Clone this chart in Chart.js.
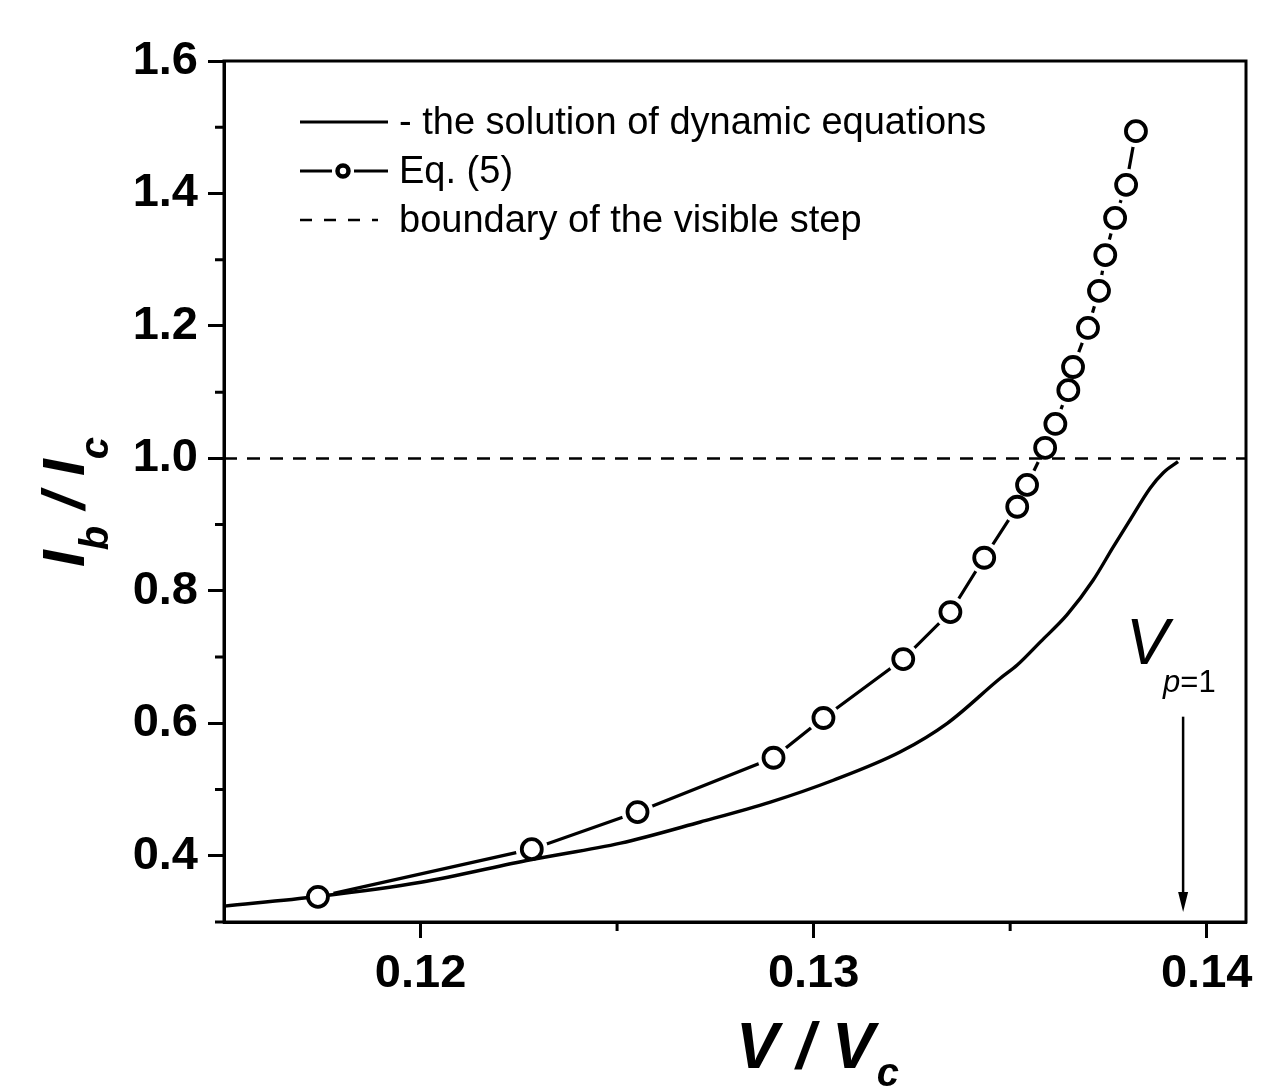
<!DOCTYPE html>
<html>
<head>
<meta charset="utf-8">
<script src="https://cdn.jsdelivr.net/npm/chart.js@4.4.1/dist/chart.umd.min.js"></script>
<style>
  html, body { margin: 0; padding: 0; background: #fff; }
  #wrap { width: 1272px; height: 1089px; }
</style>
</head>
<body>
<div id="wrap"><canvas id="ivChart" width="1272" height="1089"></canvas></div>
<script>
// axis ranges and ticks
const xMin = 0.115, xMax = 0.141;
const yMin = 0.3, yMax = 1.6;
const xTicks = [0.12, 0.13, 0.14];
const xMinorTicks = [0.125, 0.135];
const yTicks = [0.4, 0.6, 0.8, 1.0, 1.2, 1.4, 1.6];
const yMinorTicks = [0.3, 0.5, 0.7, 0.9, 1.1, 1.3, 1.5];

// solution of dynamic equations (solid curve)
const solutionX = [0.11500, 0.11739, 0.12001, 0.12280, 0.12509, 0.12712, 0.12890, 0.13050, 0.13221, 0.13340,
                   0.13475, 0.13518, 0.13577, 0.13645, 0.13711, 0.13762, 0.13805, 0.13856, 0.13889, 0.13927];
const solutionY = [0.324, 0.3385, 0.360, 0.394, 0.419, 0.451, 0.481, 0.514, 0.557, 0.600,
                   0.668, 0.688, 0.723, 0.764, 0.816, 0.866, 0.907, 0.955, 0.978, 0.995];

// Eq. (5) (open circles)
const eq5X = [0.11739, 0.12283, 0.12552, 0.12898, 0.13025, 0.13228, 0.13348, 0.13434, 0.13518, 0.13543,
              0.13589, 0.13615, 0.13648, 0.13660, 0.13698, 0.13726, 0.13742, 0.13767, 0.13795, 0.13820];
const eq5Y = [0.338, 0.410, 0.466, 0.548, 0.608, 0.697, 0.768, 0.850, 0.927, 0.960,
              1.016, 1.052, 1.103, 1.138, 1.197, 1.253, 1.307, 1.363, 1.413, 1.494];

// boundary of the visible step
const boundaryY = 1.0;

// V_{p=1} arrow (data units)
const arrowX = 0.1394, arrowTop = 0.61, arrowTip = 0.315;

const FONT = '"Liberation Sans", Arial, sans-serif';

const toPoints = (xs, ys) => xs.map((x, i) => ({ x: x, y: ys[i] }));

// draws runs of text with different fonts / baseline shifts
function drawRuns(ctx, x, y, runs) {
    let cx = x;
    runs.forEach(r => {
        ctx.font = r.font;
        ctx.fillText(r.text, cx, y + (r.dy || 0));
        cx += ctx.measureText(r.text).width + (r.gap || 0);
    });
}

const decorPlugin = {
    id: 'decor',
    afterDraw(chart) {
        const ctx = chart.ctx;
        const a = chart.chartArea;
        const xs = chart.scales.x, ys = chart.scales.y;
        ctx.save();
        ctx.strokeStyle = '#000';
        ctx.fillStyle = '#000';

        // frame
        ctx.lineWidth = 3;
        ctx.strokeRect(a.left, a.top, a.right - a.left, a.bottom - a.top);

        // minor ticks
        ctx.beginPath();
        xMinorTicks.forEach(v => {
            const px = xs.getPixelForValue(v);
            ctx.moveTo(px, a.bottom);
            ctx.lineTo(px, a.bottom + 9);
        });
        yMinorTicks.forEach(v => {
            const py = ys.getPixelForValue(v);
            ctx.moveTo(a.left, py);
            ctx.lineTo(a.left - 9, py);
        });
        ctx.stroke();

        // arrow to V_{p=1}
        const ax = xs.getPixelForValue(arrowX);
        const at = ys.getPixelForValue(arrowTop);
        const ab = ys.getPixelForValue(arrowTip);
        ctx.lineWidth = 2.5;
        ctx.beginPath();
        ctx.moveTo(ax, at);
        ctx.lineTo(ax, ab - 16);
        ctx.stroke();
        ctx.beginPath();
        ctx.moveTo(ax - 5, ab - 20);
        ctx.lineTo(ax + 5, ab - 20);
        ctx.lineTo(ax, ab);
        ctx.closePath();
        ctx.fill();

        ctx.textBaseline = 'alphabetic';
        ctx.textAlign = 'left';
        drawRuns(ctx, ax - 57, at - 53, [
            { text: 'V', font: 'italic 64px ' + FONT }
        ]);
        drawRuns(ctx, ax - 20, at - 25, [
            { text: 'p', font: 'italic 31px ' + FONT },
            { text: '=1', font: '31px ' + FONT }
        ]);

        // legend
        const lx0 = a.left + 76, lx1 = a.left + 164, tx = a.left + 175;
        const r1 = a.top + 61, r2 = a.top + 110, r3 = a.top + 159;
        ctx.lineWidth = 3;
        ctx.beginPath();
        ctx.moveTo(lx0, r1); ctx.lineTo(lx1, r1);
        ctx.moveTo(lx0, r2); ctx.lineTo(lx0 + 32, r2);
        ctx.moveTo(lx0 + 54, r2); ctx.lineTo(lx1, r2);
        ctx.stroke();
        ctx.lineWidth = 4.5;
        ctx.beginPath();
        ctx.arc(lx0 + 43, r2, 5.5, 0, Math.PI * 2);
        ctx.stroke();
        ctx.lineWidth = 2.5;
        ctx.setLineDash([12, 12]);
        ctx.beginPath();
        ctx.moveTo(lx0, r3); ctx.lineTo(lx0 + 78, r3);
        ctx.stroke();
        ctx.setLineDash([]);

        ctx.font = '38px ' + FONT;
        ctx.textBaseline = 'middle';
        ctx.fillText('- the solution of dynamic equations', tx, r1 + 2);
        ctx.fillText('Eq. (5)', tx, r2 + 2);
        ctx.fillText('boundary of the visible step', tx, r3 + 2);

        // x axis title: V / V_c
        ctx.textBaseline = 'alphabetic';
        drawRuns(ctx, a.left + 512, 1068, [
            { text: 'V / V', font: 'italic bold 64px ' + FONT, gap: 2 },
            { text: 'c', font: 'italic bold 40px ' + FONT, dy: 18 }
        ]);

        // y axis title: I_b / I_c
        ctx.save();
        ctx.translate(84, 567);
        ctx.rotate(-Math.PI / 2);
        drawRuns(ctx, 0, 0, [
            { text: 'I', font: 'italic bold 60px ' + FONT },
            { text: 'b', font: 'italic bold 40px ' + FONT, dy: 24 },
            { text: ' / I', font: 'italic bold 60px ' + FONT },
            { text: 'c', font: 'italic bold 40px ' + FONT, dy: 24 }
        ]);
        ctx.restore();

        ctx.restore();
    }
};

const tickFont = { family: FONT, size: 47, weight: 'bold' };

const config = {
    type: 'scatter',
    data: {
        datasets: [
            {
                label: 'Eq. (5) line',
                data: toPoints(eq5X, eq5Y),
                showLine: true,
                borderColor: '#000',
                borderWidth: 3.2,
                pointRadius: 0,
                order: 5
            },
            {
                label: 'gap',
                data: toPoints(eq5X, eq5Y),
                showLine: false,
                pointRadius: 16,
                pointBackgroundColor: '#fff',
                pointBorderWidth: 0,
                order: 4
            },
            {
                label: '- the solution of dynamic equations',
                data: toPoints(solutionX, solutionY),
                showLine: true,
                borderColor: '#000',
                borderWidth: 3.4,
                pointRadius: 0,
                cubicInterpolationMode: 'monotone',
                order: 3
            },
            {
                label: 'boundary of the visible step',
                data: [{ x: xMin, y: boundaryY }, { x: xMax, y: boundaryY }],
                showLine: true,
                borderColor: '#000',
                borderWidth: 2.5,
                borderDash: [13, 10],
                pointRadius: 0,
                order: 2
            },
            {
                label: 'Eq. (5)',
                data: toPoints(eq5X, eq5Y),
                showLine: false,
                pointRadius: 10,
                pointBorderWidth: 3.8,
                pointBorderColor: '#000',
                pointBackgroundColor: '#fff',
                order: 1
            }
        ]
    },
    options: {
        responsive: false,
        animation: false,
        devicePixelRatio: 1,
        events: [],
        layout: { padding: { top: 61, right: 26, left: 0, bottom: 0 } },
        scales: {
            x: {
                type: 'linear',
                min: xMin,
                max: xMax,
                afterBuildTicks: s => { s.ticks = xTicks.map(v => ({ value: v })); },
                afterFit: s => { s.height = 167; },
                ticks: {
                    callback: v => v.toFixed(2),
                    font: tickFont,
                    color: '#000',
                    padding: 8,
                    maxRotation: 0,
                    autoSkip: false
                },
                grid: { drawOnChartArea: false, tickLength: 16, tickWidth: 3, tickColor: '#000' },
                border: { display: true, width: 3, color: '#000' }
            },
            y: {
                type: 'linear',
                min: yMin,
                max: yMax,
                afterBuildTicks: s => { s.ticks = yTicks.map(v => ({ value: v })); },
                afterFit: s => { s.width = 224; },
                ticks: {
                    callback: v => v.toFixed(1),
                    font: tickFont,
                    color: '#000',
                    padding: 10,
                    autoSkip: false
                },
                grid: { drawOnChartArea: false, tickLength: 16, tickWidth: 3, tickColor: '#000' },
                border: { display: true, width: 3, color: '#000' }
            }
        },
        plugins: {
            legend: { display: false },
            tooltip: { enabled: false }
        }
    },
    plugins: [decorPlugin]
};

new Chart(document.getElementById('ivChart').getContext('2d'), config);
</script>
</body>
</html>
